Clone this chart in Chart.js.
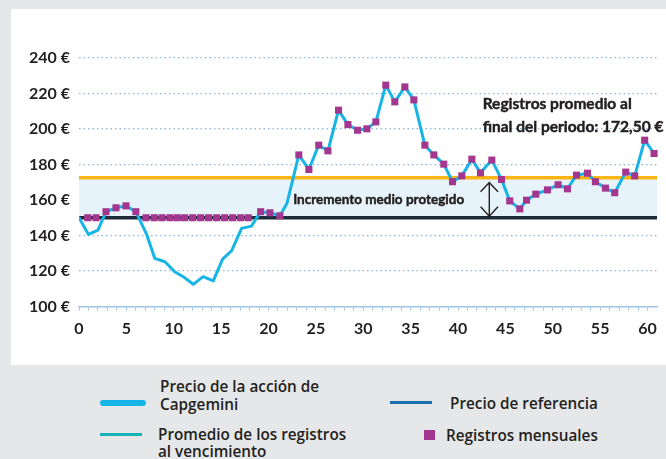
<!DOCTYPE html>
<html lang="es">
<head>
<meta charset="utf-8">
<title>Capgemini</title>
<script src="https://cdn.jsdelivr.net/npm/chart.js@4.4.1/dist/chart.umd.min.js"></script>
<style>
  html, body { margin: 0; padding: 0; }
  body { width: 666px; height: 459px; background: #e6e7e8; position: relative; overflow: hidden;
         font-family: "Open Sans", sans-serif; color: #231f20; }
  #panel { position: absolute; left: 11px; top: 9px; width: 655px; height: 356px; background: #fff; }
  .sw { position: absolute; }
  .lbl { position: absolute; font-size: 15.3px; font-weight: 600; line-height: 18px; white-space: nowrap; }
</style>
</head>
<body>
<div id="panel"><canvas id="chart" width="655" height="356"></canvas></div>

<div class="sw" style="left:100px;top:400px;width:46px;height:6px;border-radius:3px;background:#16b5e8"></div>
<div class="lbl" style="left:160px;top:377px">Precio de la acción de<br>Capgemini</div>
<div class="sw" style="left:100px;top:433px;width:42px;height:3px;background:#17b2b8"></div>
<div class="lbl" style="left:158px;top:426px;line-height:17px">Promedio de los registros<br>al vencimiento</div>
<div class="sw" style="left:390px;top:401px;width:42px;height:3px;background:#1b6fae"></div>
<div class="lbl" style="left:450px;top:394px">Precio de referencia</div>
<div class="sw" style="left:424px;top:430px;width:11px;height:10px;background:#a3378f"></div>
<div class="lbl" style="left:446px;top:426px">Registros mensuales</div>

<script>
// Capgemini share price, month by month (vertices of the line)
const priceMonths = [0, 1, 2, 2.85, 3.9, 4.96, 6, 7.14, 8, 9.07, 10.1, 11, 12.06, 13.1, 14.17, 15.16,
  16.1, 17.16, 18.2, 19.17, 20.15, 21.2, 21.94, 23.2, 24.26, 25.3, 26.27, 27.39, 28.38, 29.4, 30.38,
  31.33, 32.38, 33.33, 34.39, 35.34, 36.5, 37.45, 38.5, 39.42, 40.4, 41.46, 42.37, 43.57, 44.59,
  45.46, 46.52, 47.23, 48.21, 49.44, 50.56, 51.55, 52.5, 53.66, 54.5, 55.56, 56.54, 57.7, 58.65,
  59.7, 60.69];
const price = [150, 140.6, 143, 153.4, 155.6, 156.7, 153.4, 140.6, 127.1, 125.2, 119.6, 116.8, 112.5,
  116.8, 114.4, 126.7, 131.4, 144, 145.3, 153.4, 152.8, 151.1, 158, 185.4, 177.2, 190.9, 187.7,
  210.6, 202.5, 199.3, 200.1, 204, 224.7, 215.3, 223.7, 216.4, 190.9, 185.4, 180.2, 170.3, 173.6,
  183, 175.3, 182.5, 171.6, 159.5, 155, 159.9, 163.3, 165.7, 168.6, 166.3, 174, 175.1, 170.3,
  166.7, 164.1, 175.7, 173.6, 193.7, 186.2];

// monthly records (never below the reference price)
const recordMonths = [0.92, 1.79, 2.85, 3.9, 4.96, 6, 7.07, 7.94, 8.76, 9.6, 10.37, 11.15, 12, 12.84,
  13.68, 14.53, 15.37, 16.21, 17.06, 17.86, 19.17, 20.15, 21.2, 23.2, 24.26, 25.3, 26.27, 27.39,
  28.38, 29.4, 30.38, 31.33, 32.38, 33.33, 34.39, 35.34, 36.5, 37.45, 38.5, 39.42, 40.4, 41.46,
  42.37, 43.57, 44.59, 45.46, 46.52, 47.23, 48.21, 49.44, 50.56, 51.55, 52.5, 53.66, 54.5, 55.56,
  56.54, 57.7, 58.65, 59.7, 60.69];
const records = [150, 150, 153.4, 155.6, 156.7, 153.4, 150, 150, 150, 150, 150, 150, 150, 150, 150,
  150, 150, 150, 150, 150, 153.4, 152.8, 151.1, 185.4, 177.2, 190.9, 187.7, 210.6, 202.5, 199.3,
  200.1, 204, 224.7, 215.3, 223.7, 216.4, 190.9, 185.4, 180.2, 170.3, 173.6, 183, 175.3, 182.5,
  171.6, 159.5, 155, 159.9, 163.3, 165.7, 168.6, 166.3, 174, 175.1, 170.3, 166.7, 164.1, 175.7,
  173.6, 193.7, 186.2];

const refPrice = 150;      // precio de referencia
const avgRecords = 172.5;  // registros promedio al final del periodo
const lastMonth = 61;

const yTickStep = 20;
const xLabelEvery = 5;

const pairs = (xs, ys) => xs.map((m, i) => ({ x: m, y: ys[i] }));
const flat = v => [{ x: 0, y: v }, { x: lastMonth, y: v }];

// bold text with a hair of stroke to thicken it a bit
function heavyText(ctx, text, px, py) {
  ctx.fillText(text, px, py);
  ctx.strokeText(text, px, py);
}

const notes = {
  id: 'notes',
  afterDatasetsDraw(chart) {
    const { ctx, scales: { x, y } } = chart;
    ctx.save();
    ctx.fillStyle = '#231f20';
    ctx.strokeStyle = '#231f20';
    ctx.lineWidth = 0.45;
    ctx.textBaseline = 'middle';
    ctx.font = 'bold 13.5px Lato';
    heavyText(ctx, 'Incremento medio protegido', x.getPixelForValue(22.6), y.getPixelForValue(160));
    ctx.font = 'bold 15.5px Lato';
    heavyText(ctx, 'Registros promedio al', x.getPixelForValue(42.6), y.getPixelForValue(214));
    heavyText(ctx, 'final del periodo: 172,50 €', x.getPixelForValue(42.6), y.getPixelForValue(201));

    // double arrow between the two horizontal lines
    const ax = x.getPixelForValue(43.3);
    const top = y.getPixelForValue(169.9);
    const bot = y.getPixelForValue(150.9);
    ctx.lineWidth = 1.4;
    ctx.beginPath();
    ctx.moveTo(ax, top); ctx.lineTo(ax, bot);
    ctx.moveTo(ax - 8.7, top + 9.3); ctx.lineTo(ax, top); ctx.lineTo(ax + 8.7, top + 9.3);
    ctx.moveTo(ax - 8.7, bot - 9.3); ctx.lineTo(ax, bot); ctx.lineTo(ax + 8.7, bot - 9.3);
    ctx.stroke();
    ctx.restore();
  }
};

const tickFont = { family: 'Lato', weight: 'bold', size: 16 };

new Chart(document.getElementById('chart'), {
  type: 'line',
  data: {
    datasets: [
      {
        label: 'Registros mensuales',
        data: pairs(recordMonths, records),
        showLine: false,
        pointStyle: 'rect',
        pointRadius: 5,
        pointBackgroundColor: '#a3378f',
        pointBorderWidth: 0,
        clip: false
      },
      {
        label: 'Precio de la acción de Capgemini',
        data: pairs(priceMonths, price),
        borderColor: '#17b4e6',
        borderWidth: 3,
        borderJoinStyle: 'round',
        borderCapStyle: 'round',
        pointRadius: 0,
        tension: 0
      },
      {
        label: 'Promedio de los registros al vencimiento',
        data: flat(avgRecords),
        borderColor: '#fbb615',
        borderWidth: 3.5,
        pointRadius: 0,
        fill: { value: refPrice },
        backgroundColor: '#e7f3fa'
      },
      {
        label: 'Precio de referencia',
        data: flat(refPrice),
        borderColor: '#1c2b37',
        borderWidth: 3.5,
        pointRadius: 0
      }
    ]
  },
  options: {
    responsive: false,
    animation: false,
    events: [],
    layout: { padding: { top: 49, right: 9, left: 0, bottom: 0 } },
    plugins: {
      legend: { display: false },
      tooltip: { enabled: false },
      filler: { drawTime: 'beforeDatasetsDraw' }
    },
    scales: {
      x: {
        type: 'linear',
        min: 0,
        max: lastMonth,
        afterBuildTicks: s => { s.ticks = s.ticks.filter(t => t.value <= 60); },
        afterFit: s => { s.height = 58.5; },
        ticks: {
          stepSize: 1,
          autoSkip: false,
          maxRotation: 0,
          includeBounds: false,
          padding: 9,
          color: '#231f20',
          font: tickFont,
          callback: v => (v % xLabelEvery === 0 ? v : '')
        },
        grid: { drawOnChartArea: false, tickLength: 4, tickColor: '#9cc4e6', tickWidth: 1 },
        border: { color: '#9cc4e6', width: 1.5 }
      },
      y: {
        min: 100,
        max: 240,
        afterFit: s => { s.width = 68; },
        ticks: {
          stepSize: yTickStep,
          padding: 9,
          color: '#231f20',
          font: tickFont,
          callback: v => v + ' €'
        },
        grid: {
          color: c => (c.tick && c.tick.value === 100 ? 'rgba(0,0,0,0)' : '#8ab6de'),
          lineWidth: 1.3,
          drawTicks: false
        },
        border: { display: false, dash: [1.5, 3] }
      }
    }
  },
  plugins: [notes]
});
</script>
</body>
</html>
